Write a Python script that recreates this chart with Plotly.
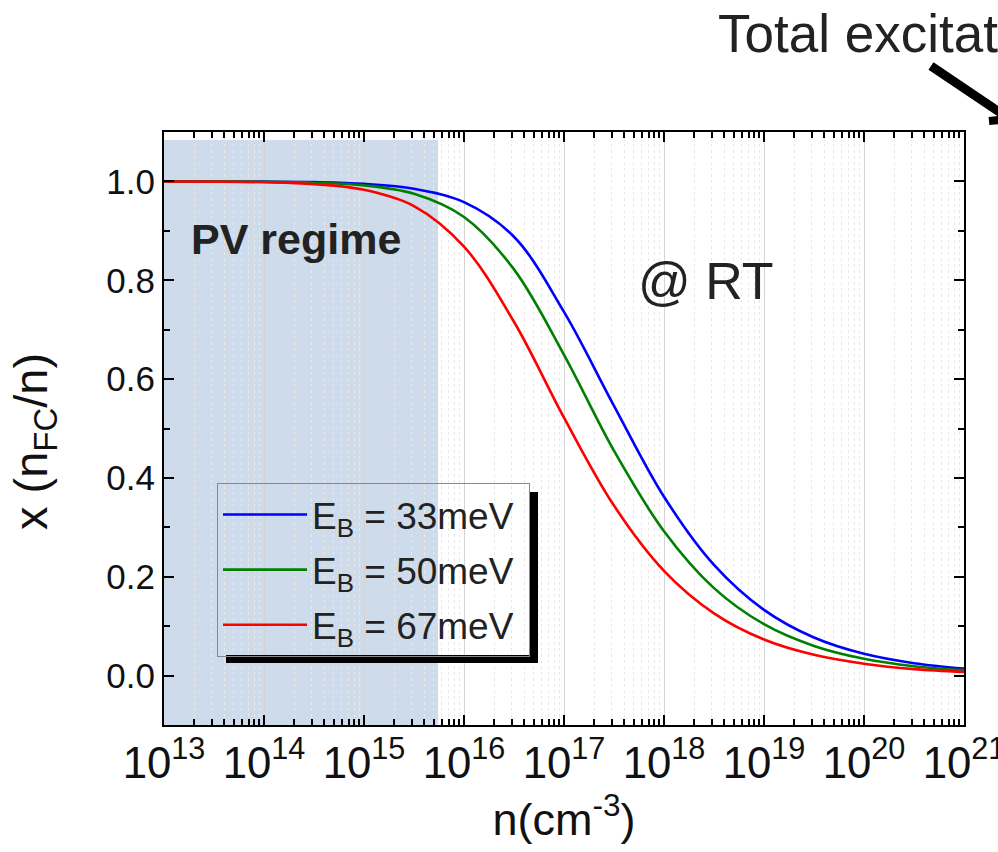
import math
import plotly.graph_objects as go

# ---- data ----
n_values = [1e13, 3.16e13, 1e14, 3.16e14, 1e15, 3.16e15, 1e16, 3.16e16,
            1e17, 3.16e17, 1e18, 3.16e18, 1e19, 3.16e19, 1e20, 3.16e20, 1e21]
x_33 = [1.000, 0.9998, 0.9995, 0.9985, 0.995, 0.985, 0.958, 0.888,
        0.736, 0.546, 0.362, 0.224, 0.133, 0.077, 0.044, 0.025, 0.014]
x_50 = [0.9999, 0.9997, 0.9992, 0.9974, 0.992, 0.975, 0.928, 0.822,
        0.649, 0.455, 0.292, 0.177, 0.104, 0.060, 0.034, 0.019, 0.011]
x_67 = [0.9998, 0.9994, 0.9983, 0.9945, 0.983, 0.950, 0.868, 0.716,
        0.522, 0.344, 0.212, 0.126, 0.073, 0.042, 0.024, 0.013, 0.0075]
series_names = ["E<sub>B</sub> = 33meV&nbsp;", "E<sub>B</sub> = 50meV&nbsp;", "E<sub>B</sub> = 67meV&nbsp;"]
series_colors = ["#0000ff", "#008000", "#ff0000"]
pv_regime_end = 5.5e15
x_log_range = [13, 21]
y_range = [-0.1, 1.1]

FONT = "Liberation Sans, Arial, sans-serif"

# plot-area pixel geometry
L, R, T, B = 164, 964, 132, 725
W, H = 998, 852


def px(xp):
    return (xp - L) / (R - L)


def py(yp):
    return (B - yp) / (B - T)


fig = go.Figure()
for i, (ys, name, col) in enumerate(zip([x_33, x_50, x_67], series_names, series_colors)):
    fig.add_trace(go.Scatter(
        x=n_values, y=ys, mode="lines", name=name, legendgroup=f"g{i}",
        line=dict(color=col, width=2.6, shape="spline", smoothing=1.0),
    ))

# PV regime shading (x extent from the axis range, in paper fraction)
pv_frac = (math.log10(pv_regime_end) - x_log_range[0]) / (x_log_range[1] - x_log_range[0])
fig.add_shape(type="rect", xref="paper", yref="paper",
              x0=0, x1=pv_frac, y0=0, y1=py(140),
              fillcolor="#cddbeb", line_width=0, layer="below")

# legend shadow (L-shaped)
fig.add_shape(type="rect", xref="paper", yref="paper",
              x0=px(530), x1=px(538), y0=py(663), y1=py(492),
              fillcolor="black", line_width=0, layer="above")
fig.add_shape(type="rect", xref="paper", yref="paper",
              x0=px(226), x1=px(538), y0=py(663), y1=py(655),
              fillcolor="black", line_width=0, layer="above")

# arrow toward "Total excitation"
fig.add_shape(type="line", xref="paper", yref="paper",
              x0=px(931), y0=py(66), x1=px(1020), y1=py(126),
              line=dict(color="black", width=9))
fig.add_shape(type="line", xref="paper", yref="paper",
              x0=px(989), y0=py(121), x1=px(1010), y1=py(119),
              line=dict(color="black", width=8))

fig.add_annotation(text="<b>PV regime</b>", xref="paper", yref="paper",
                   x=px(296), y=py(239), xanchor="center", yanchor="middle",
                   showarrow=False, font=dict(family=FONT, size=43, color="#222222"))
fig.add_annotation(text="@ RT", xref="paper", yref="paper",
                   x=px(706), y=py(281), xanchor="center", yanchor="middle",
                   showarrow=False, font=dict(family=FONT, size=52, color="#222222"))
fig.add_annotation(text="Total excitation", xref="paper", yref="paper",
                   x=px(716), y=py(33), xanchor="left", yanchor="middle",
                   showarrow=False, font=dict(family=FONT, size=53, color="#222222"))
# y-axis title
fig.add_annotation(text="x (n<sub>FC</sub>/n)", xref="paper", yref="paper",
                   x=px(34), y=py(442), xanchor="center", yanchor="middle",
                   textangle=-90, showarrow=False,
                   font=dict(family=FONT, size=47, color="#111111"))

fig.update_xaxes(
    type="log", range=x_log_range, dtick=1, exponentformat="power",
    showline=True, linecolor="black", linewidth=2, mirror="allticks",
    ticks="inside", ticklen=10, tickwidth=2, tickcolor="black",
    tickfont=dict(family=FONT, size=35, color="#111111"),
    ticklabeloverflow="allow", automargin=False,
    showgrid=True, gridcolor="#d4d4d4", gridwidth=1, zeroline=False,
    minor=dict(ticks="inside", ticklen=6, tickwidth=1.5, tickcolor="black",
               showgrid=True, gridcolor="#e8e8e8", griddash="dot", gridwidth=1),
    title=dict(text="n(cm<sup>-3</sup>)", font=dict(family=FONT, size=45, color="#111111"),
               standoff=8),
)
fig.update_yaxes(
    range=y_range, dtick=0.2, tick0=0, tickformat=".1f",
    showline=True, linecolor="black", linewidth=2, mirror="allticks",
    ticks="inside", ticklen=10, tickwidth=2, tickcolor="black",
    tickfont=dict(family=FONT, size=35, color="#111111"),
    showgrid=False, zeroline=False, automargin=False,
    minor=dict(dtick=0.1, tick0=0, ticks="inside", ticklen=6, tickwidth=1.5,
               tickcolor="black", showgrid=False),
)

fig.update_layout(
    width=W, height=H,
    margin=dict(l=L, r=W - R, t=T, b=H - B, autoexpand=False),
    paper_bgcolor="white", plot_bgcolor="white",
    font=dict(family=FONT),
    showlegend=True,
    legend=dict(x=px(217), y=py(483), xanchor="left", yanchor="top",
                bgcolor="rgba(0,0,0,0)", bordercolor="#888888", borderwidth=1,
                font=dict(family=FONT, size=37, color="#222222"),
                itemwidth=84, tracegroupgap=4, traceorder="grouped"),
)

fig.write_html("out.html")
